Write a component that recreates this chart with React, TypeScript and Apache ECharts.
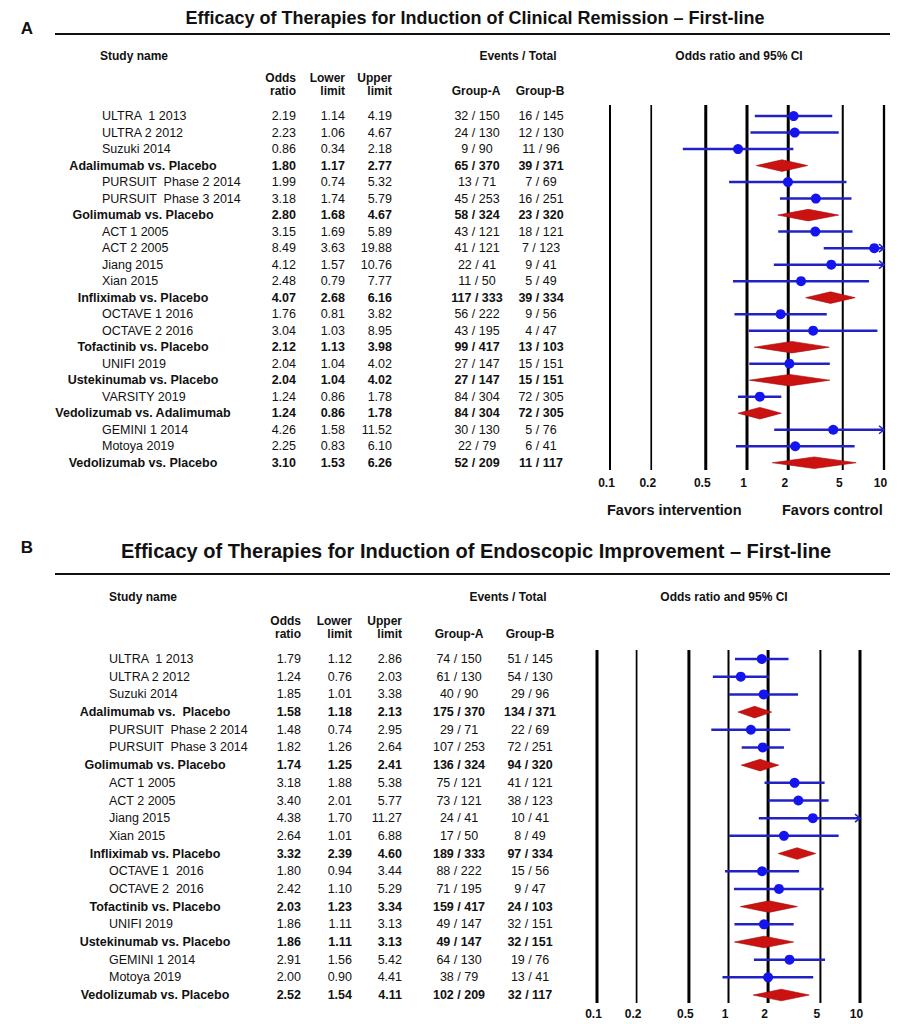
import { useEffect, useRef } from "react";
import * as echarts from "echarts";

// ---------- shared axis ticks ----------
const tickValues = [0.1, 0.2, 0.5, 1, 2, 5, 10];
const tickLabels = ["0.1", "0.2", "0.5", "1", "2", "5", "10"];

// ---------- Panel A: Clinical remission ----------
const namesA = [
  "ULTRA  1 2013", "ULTRA 2 2012", "Suzuki 2014", "Adalimumab vs. Placebo",
  "PURSUIT  Phase 2 2014", "PURSUIT  Phase 3 2014", "Golimumab vs. Placebo",
  "ACT 1 2005", "ACT 2 2005", "Jiang 2015", "Xian 2015", "Infliximab vs. Placebo",
  "OCTAVE 1 2016", "OCTAVE 2 2016", "Tofactinib vs. Placebo", "UNIFI 2019",
  "Ustekinumab vs. Placebo", "VARSITY 2019", "Vedolizumab vs. Adalimumab",
  "GEMINI 1 2014", "Motoya 2019", "Vedolizumab vs. Placebo",
];
const pooledA = [0, 0, 0, 1, 0, 0, 1, 0, 0, 0, 0, 1, 0, 0, 1, 0, 1, 0, 1, 0, 0, 1];
const orA = [2.19, 2.23, 0.86, 1.80, 1.99, 3.18, 2.80, 3.15, 8.49, 4.12, 2.48, 4.07, 1.76, 3.04, 2.12, 2.04, 2.04, 1.24, 1.24, 4.26, 2.25, 3.10];
const loA = [1.14, 1.06, 0.34, 1.17, 0.74, 1.74, 1.68, 1.69, 3.63, 1.57, 0.79, 2.68, 0.81, 1.03, 1.13, 1.04, 1.04, 0.86, 0.86, 1.58, 0.83, 1.53];
const hiA = [4.19, 4.67, 2.18, 2.77, 5.32, 5.79, 4.67, 5.89, 19.88, 10.76, 7.77, 6.16, 3.82, 8.95, 3.98, 4.02, 4.02, 1.78, 1.78, 11.52, 6.10, 6.26];
const evA_A = [32, 24, 9, 65, 13, 45, 58, 43, 41, 22, 11, 117, 56, 43, 99, 27, 27, 84, 84, 30, 22, 52];
const totA_A = [150, 130, 90, 370, 71, 253, 324, 121, 121, 41, 50, 333, 222, 195, 417, 147, 147, 304, 304, 130, 79, 209];
const evB_A = [16, 12, 11, 39, 7, 16, 23, 18, 7, 9, 5, 39, 9, 4, 13, 15, 15, 72, 72, 5, 6, 11];
const totB_A = [145, 130, 96, 371, 69, 251, 320, 121, 123, 41, 49, 334, 56, 47, 103, 151, 151, 305, 305, 76, 41, 117];

// ---------- Panel B: Endoscopic improvement ----------
const namesB = [
  "ULTRA  1 2013", "ULTRA 2 2012", "Suzuki 2014", "Adalimumab vs.  Placebo",
  "PURSUIT  Phase 2 2014", "PURSUIT  Phase 3 2014", "Golimumab vs. Placebo",
  "ACT 1 2005", "ACT 2 2005", "Jiang 2015", "Xian 2015", "Infliximab vs. Placebo",
  "OCTAVE 1  2016", "OCTAVE 2  2016", "Tofactinib vs. Placebo", "UNIFI 2019",
  "Ustekinumab vs. Placebo", "GEMINI 1 2014", "Motoya 2019", "Vedolizumab vs. Placebo",
];
const pooledB = [0, 0, 0, 1, 0, 0, 1, 0, 0, 0, 0, 1, 0, 0, 1, 0, 1, 0, 0, 1];
const orB = [1.79, 1.24, 1.85, 1.58, 1.48, 1.82, 1.74, 3.18, 3.40, 4.38, 2.64, 3.32, 1.80, 2.42, 2.03, 1.86, 1.86, 2.91, 2.00, 2.52];
const loB = [1.12, 0.76, 1.01, 1.18, 0.74, 1.26, 1.25, 1.88, 2.01, 1.70, 1.01, 2.39, 0.94, 1.10, 1.23, 1.11, 1.11, 1.56, 0.90, 1.54];
const hiB = [2.86, 2.03, 3.38, 2.13, 2.95, 2.64, 2.41, 5.38, 5.77, 11.27, 6.88, 4.60, 3.44, 5.29, 3.34, 3.13, 3.13, 5.42, 4.41, 4.11];
const evA_B = [74, 61, 40, 175, 29, 107, 136, 75, 73, 24, 17, 189, 88, 71, 159, 49, 49, 64, 38, 102];
const totA_B = [150, 130, 90, 370, 71, 253, 324, 121, 121, 41, 50, 333, 222, 195, 417, 147, 147, 130, 79, 209];
const evB_B = [51, 54, 29, 134, 22, 72, 94, 41, 38, 10, 8, 97, 15, 9, 24, 32, 32, 19, 13, 32];
const totB_B = [145, 130, 96, 371, 69, 251, 320, 121, 123, 41, 49, 334, 56, 47, 103, 151, 151, 76, 41, 117];

// ---------- styles / layout ----------
const FONT = "'Liberation Sans', Arial, Helvetica, sans-serif";
const LINE_COLOR = "#2222c4";
const DOT_COLOR = "#1414f0";
const DIAMOND_COLOR = "#cc1111";
const refWidthsA = [2, 1.7, 3, 3, 3, 2, 2.3];
const refWidthsB = [3, 1.7, 3, 2, 3, 2, 3];

type Panel = {
  names: string[]; pooled: number[]; or: number[]; lo: number[]; hi: number[];
  evA: number[]; totA: number[]; evB: number[]; totB: number[];
  cols: { name: number; pooledC: number; or: number; lo: number; hi: number; ga: number; gb: number };
  refWidths: number[]; labelOffset: number; yMin: number; yMax: number;
};

const panelA: Panel = {
  names: namesA, pooled: pooledA, or: orA, lo: loA, hi: hiA,
  evA: evA_A, totA: totA_A, evB: evB_A, totB: totB_A,
  cols: { name: 102, pooledC: 143, or: 296, lo: 345, hi: 392, ga: 477, gb: 541 },
  refWidths: refWidthsA, labelOffset: 13, yMin: -0.67, yMax: 21.44,
};
const panelB: Panel = {
  names: namesB, pooled: pooledB, or: orB, lo: loB, hi: hiB,
  evA: evA_B, totA: totA_B, evB: evB_B, totB: totB_B,
  cols: { name: 109, pooledC: 155, or: 301, lo: 352, hi: 402, ga: 459, gb: 530 },
  refWidths: refWidthsB, labelOffset: 11, yMin: -0.51, yMax: 19.45,
};

function txt(x: number, y: number, text: string, bold: boolean, align: string, size = 12.5) {
  return {
    type: "text",
    x, y,
    style: {
      text, fill: "#111", font: `${bold ? "bold " : ""}${size}px ${FONT}`,
      textAlign: align, textVerticalAlign: "middle",
    },
  };
}

function buildSeries(p: Panel, gi: number) {
  const refSeries = {
    type: "custom", xAxisIndex: gi, yAxisIndex: gi, silent: true, clip: false,
    data: tickValues.map((v) => [v, p.yMin]),
    encode: { x: 0, y: 1 },
    renderItem: (params: any, api: any) => {
      const i = params.dataIndex;
      const v = api.value(0);
      const top = api.coord([v, p.yMin]);
      const bot = api.coord([v, p.yMax]);
      return {
        type: "group",
        children: [
          { type: "line", shape: { x1: top[0], y1: top[1], x2: bot[0], y2: bot[1] }, style: { stroke: "#000", lineWidth: p.refWidths[i] } },
          {
            type: "text", x: top[0] - 3.5, y: bot[1] + p.labelOffset,
            style: { text: tickLabels[i], fill: "#111", font: `bold 12px ${FONT}`, textAlign: "center", textVerticalAlign: "middle" },
          },
        ],
      };
    },
  };

  const forestSeries = {
    type: "custom", xAxisIndex: gi, yAxisIndex: gi, silent: true, clip: false,
    data: p.or.map((v, i) => [v, p.lo[i], p.hi[i], i, p.pooled[i]]),
    encode: { x: 0, y: 3 },
    renderItem: (params: any, api: any) => {
      const or = api.value(0), lo = api.value(1), hi = api.value(2), row = api.value(3), pooled = api.value(4);
      const [xo, y] = api.coord([or, row]);
      const xl = api.coord([lo, row])[0];
      const xh = api.coord([Math.min(hi, 10), row])[0];
      if (pooled) {
        return {
          type: "polygon",
          shape: { points: [[xl, y], [xo, y - 5.8], [xh, y], [xo, y + 5.8]] },
          style: { fill: DIAMOND_COLOR, stroke: "#a00808", lineWidth: 0.6 },
        };
      }
      const children: any[] = [
        { type: "line", shape: { x1: xl, y1: y, x2: xh, y2: y }, style: { stroke: LINE_COLOR, lineWidth: 2.5 } },
      ];
      if (hi > 10) {
        children.push({
          type: "polyline",
          shape: { points: [[xh - 5, y - 4], [xh, y], [xh - 5, y + 4]] },
          style: { stroke: LINE_COLOR, lineWidth: 1.5, fill: null },
        });
      }
      children.push({ type: "circle", shape: { cx: xo, cy: y, r: 5 }, style: { fill: DOT_COLOR } });
      return { type: "group", children };
    },
  };

  const tableSeries = {
    type: "custom", xAxisIndex: gi, yAxisIndex: gi, silent: true, clip: false,
    data: p.names.map((_, i) => [1, i]),
    encode: { x: 0, y: 1 },
    renderItem: (params: any, api: any) => {
      const i = params.dataIndex;
      const y = api.coord([1, api.value(1)])[1];
      const b = !!p.pooled[i];
      const c = p.cols;
      return {
        type: "group",
        children: [
          b ? txt(c.pooledC, y, p.names[i], true, "center") : txt(c.name, y, p.names[i], false, "left"),
          txt(c.or, y, p.or[i].toFixed(2), b, "right"),
          txt(c.lo, y, p.lo[i].toFixed(2), b, "right"),
          txt(c.hi, y, p.hi[i].toFixed(2), b, "right"),
          txt(c.ga, y, `${p.evA[i]} / ${p.totA[i]}`, b, "center"),
          txt(c.gb, y, `${p.evB[i]} / ${p.totB[i]}`, b, "center"),
        ],
      };
    },
  };
  return [refSeries, forestSeries, tableSeries];
}

export default function App() {
  const ref = useRef<HTMLDivElement>(null);
  useEffect(() => {
    if (!ref.current) return;
    const chart = echarts.init(ref.current, undefined, { renderer: "svg" });
    const headerA = [
      txt(100, 56, "Study name", true, "left", 12),
      txt(518, 56, "Events / Total", true, "center", 12),
      txt(739, 56, "Odds ratio and 95% CI", true, "center", 12),
      txt(296, 78, "Odds", true, "right", 12), txt(296, 91, "ratio", true, "right", 12),
      txt(345, 78, "Lower", true, "right", 12), txt(345, 91, "limit", true, "right", 12),
      txt(392, 78, "Upper", true, "right", 12), txt(392, 91, "limit", true, "right", 12),
      txt(476, 91, "Group-A", true, "center", 12), txt(540, 91, "Group-B", true, "center", 12),
      txt(607, 510, "Favors intervention", true, "left", 14.5),
      txt(782, 510, "Favors control", true, "left", 14.5),
    ];
    const headerB = [
      txt(109, 597, "Study name", true, "left", 12),
      txt(508, 597, "Events / Total", true, "center", 12),
      txt(724, 597, "Odds ratio and 95% CI", true, "center", 12),
      txt(301, 621, "Odds", true, "right", 12), txt(301, 634, "ratio", true, "right", 12),
      txt(352, 621, "Lower", true, "right", 12), txt(352, 634, "limit", true, "right", 12),
      txt(402, 621, "Upper", true, "right", 12), txt(402, 634, "limit", true, "right", 12),
      txt(459, 634, "Group-A", true, "center", 12), txt(530, 634, "Group-B", true, "center", 12),
    ];
    chart.setOption({
      animation: false,
      backgroundColor: "#fff",
      grid: [
        { left: 610, width: 274, top: 105, height: 365 },
        { left: 597, width: 263, top: 650, height: 353 },
      ],
      xAxis: [
        { type: "log", logBase: 10, min: 0.1, max: 10, gridIndex: 0, show: false },
        { type: "log", logBase: 10, min: 0.1, max: 10, gridIndex: 1, show: false },
      ],
      yAxis: [
        { type: "value", min: panelA.yMin, max: panelA.yMax, inverse: true, gridIndex: 0, show: false },
        { type: "value", min: panelB.yMin, max: panelB.yMax, inverse: true, gridIndex: 1, show: false },
      ],
      graphic: [
        {
          type: "text", x: 475, y: 18,
          style: { text: "Efficacy of Therapies for Induction of Clinical Remission – First-line", fill: "#111", font: `bold 18px ${FONT}`, textAlign: "center", textVerticalAlign: "middle" },
        },
        txt(27, 28, "A", true, "center", 17),
        { type: "line", shape: { x1: 55, y1: 34, x2: 890, y2: 34 }, style: { stroke: "#111", lineWidth: 2 } },
        {
          type: "text", x: 476, y: 551,
          style: { text: "Efficacy of Therapies for Induction of Endoscopic Improvement – First-line", fill: "#111", font: `bold 20px ${FONT}`, textAlign: "center", textVerticalAlign: "middle" },
        },
        txt(27, 547, "B", true, "center", 17),
        { type: "line", shape: { x1: 55, y1: 574, x2: 890, y2: 574 }, style: { stroke: "#111", lineWidth: 2 } },
        ...headerA,
        ...headerB,
      ],
      series: [...buildSeries(panelA, 0), ...buildSeries(panelB, 1)],
    });
    return () => chart.dispose();
  }, []);
  return <div ref={ref} style={{ position: "absolute", left: 0, top: 0, width: 897, height: 1024 }} />;
}
